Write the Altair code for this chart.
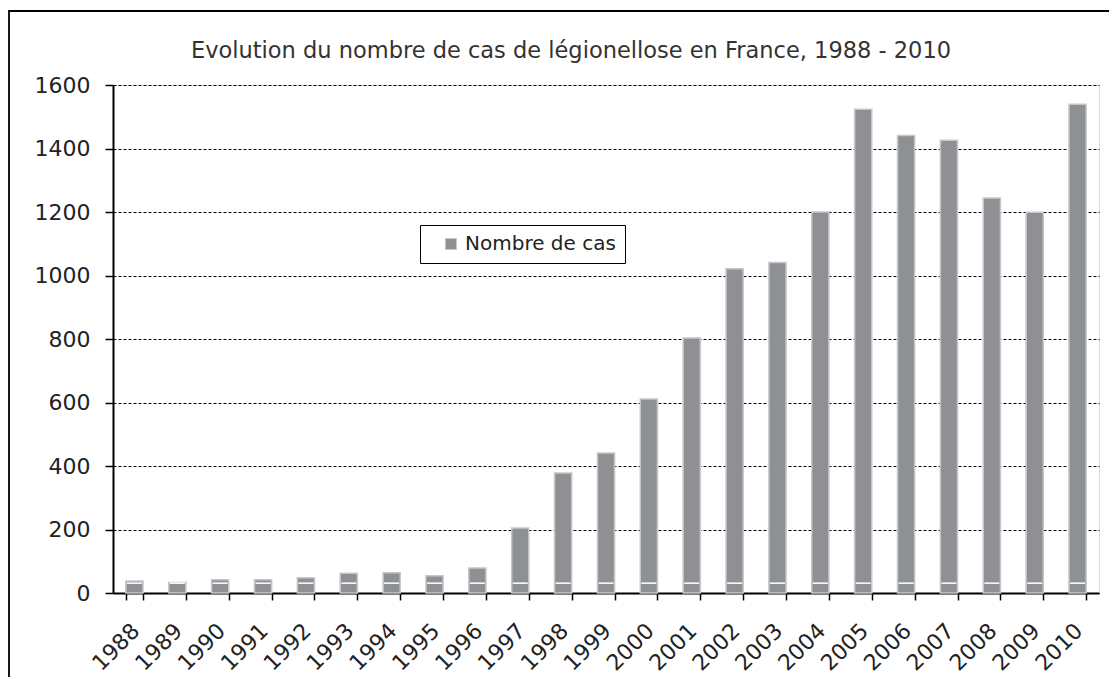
import altair as alt
import pandas as pd

annees = ["1988", "1989", "1990", "1991", "1992", "1993", "1994", "1995", "1996",
          "1997", "1998", "1999", "2000", "2001", "2002", "2003", "2004", "2005",
          "2006", "2007", "2008", "2009", "2010"]
cas = [38, 33, 42, 42, 48, 62, 64, 54, 79,
       205, 378, 441, 611, 803, 1021, 1041, 1200, 1524,
       1441, 1426, 1244, 1199, 1539]
marque = [31, 31, 31, 31, 31, 31, 31, 31, 31,
          31, 31, 31, 31, 31, 31, 31, 31, 31,
          31, 31, 31, 31, 31]
serie = "Nombre de cas"
titre = "Evolution du nombre de cas de légionellose en France, 1988 - 2010"
y_ticks = [0, 200, 400, 600, 800, 1000, 1200, 1400, 1600]

df = pd.DataFrame({"annee": annees, "cas": cas, "marque": marque, "serie": [serie] * len(annees)})

FONT = "DejaVu Sans"
FILL = "#8e9094"
EDGE = "#c6c7c9"

x_enc = alt.X("annee:N", sort=annees, title=None,
              scale=alt.Scale(paddingInner=0.6, paddingOuter=0.3),
              axis=alt.Axis(labelAngle=-45, labelAlign="right", labelBaseline="middle",
                            labelFontSize=22, labelFont=FONT, labelColor="#222",
                            labelPadding=27, labelOffset=1,
                            tickBand="extent", tickSize=7, tickColor="black", tickWidth=1.5,
                            domainColor="black", domainWidth=2, grid=False))

bars = alt.Chart(df).mark_bar(stroke=EDGE, strokeWidth=1.5).encode(
    x=x_enc,
    y=alt.Y("cas:Q", title=None,
            scale=alt.Scale(domain=[0, 1600], nice=False),
            axis=alt.Axis(values=y_ticks, format="d", labelFontSize=22, labelFont=FONT,
                          labelColor="#222",
                          labelPadding=15, tickSize=8, tickColor="black", tickWidth=1.5,
                          domainColor="black", domainWidth=2,
                          grid=True, gridColor="black", gridDash=[3, 2], gridWidth=1)),
    color=alt.Color("serie:N", scale=alt.Scale(range=[FILL]),
                    legend=alt.Legend(title=None, orient="none", legendX=307, legendY=140,
                                      strokeColor="black", fillColor="white",
                                      padding=9, symbolType="square", symbolSize=121,
                                      symbolStrokeColor=EDGE, symbolStrokeWidth=1,
                                      symbolOffset=12, labelOffset=4,
                                      labelFontSize=20, labelFont=FONT, labelColor="#222")),
)

lignes = alt.Chart(df).mark_tick(color="white", thickness=1.5, size=15, opacity=1).encode(
    x=alt.X("annee:N", sort=annees),
    y=alt.Y("marque:Q"),
)

cadre = alt.Chart(pd.DataFrame({"c": [0]})).mark_rect(
    fill="white", fillOpacity=0, stroke="black", strokeWidth=1.8
).encode(
    x=alt.value(-104), x2=alt.value(1010), y=alt.value(-74), y2=alt.value(610)
)

entete = alt.Chart(pd.DataFrame({"t": [titre]})).mark_text(
    font=FONT, fontSize=22.5, color="#333", align="center", baseline="alphabetic"
).encode(
    text="t:N", x=alt.value(458), y=alt.value(-27)
)

chart = alt.layer(cadre, bars, lignes, entete).properties(
    width=986, height=508,
    autosize=alt.AutoSizeParams(type="none"),
    padding={"left": 105, "top": 77, "right": 10, "bottom": 84},
).configure_view(stroke=None).configure_legend(strokeWidth=1.5).configure(background="white")

chart.save("out.html", embed_options={"renderer": "svg", "actions": False})
